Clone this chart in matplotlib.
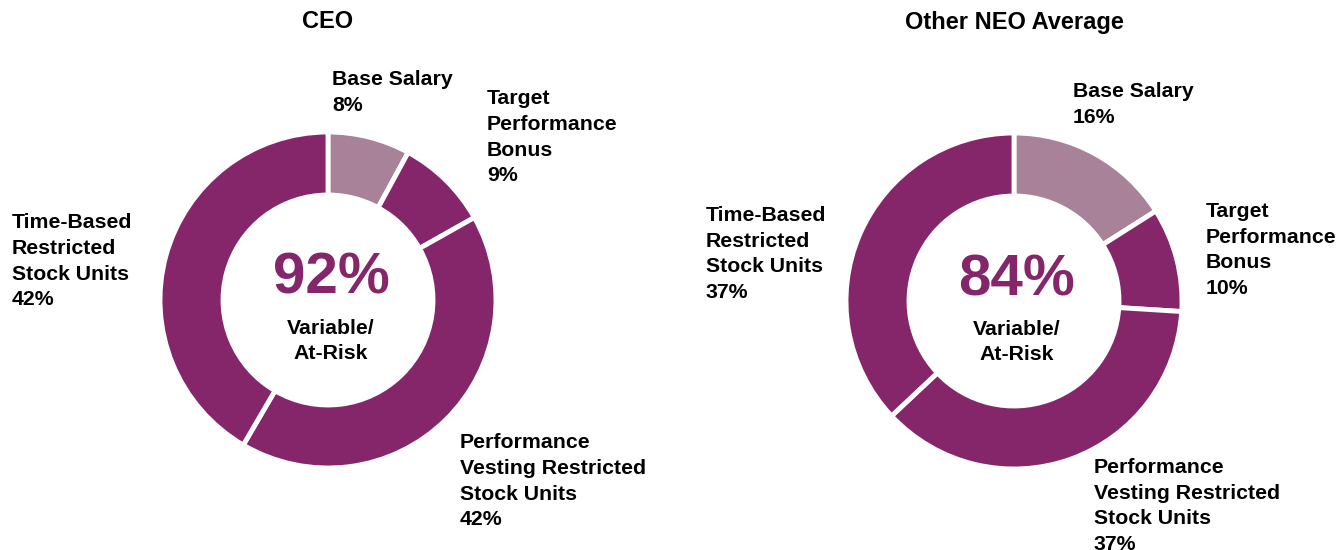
import matplotlib.pyplot as plt

plt.rcParams["font.family"] = ["Liberation Sans", "DejaVu Sans"]
plt.rcParams["font.weight"] = "bold"

W, H = 1337, 550
PURPLE = "#85266B"
LIGHT = "#A88299"

components = ["Base Salary", "Target Performance Bonus",
              "Performance Vesting Restricted Stock Units", "Time-Based Restricted Stock Units"]
ceo_pct = [8, 9, 42, 42]
neo_pct = [16, 10, 37, 37]
ceo_variable = 92
neo_variable = 84

# label text per wedge (line breaks as in the original)
label_lines = ["Base Salary", "Target\nPerformance\nBonus",
               "Performance\nVesting Restricted\nStock Units", "Time-Based\nRestricted\nStock Units"]

# pixel positions (x, top y) of the labels for each donut
ceo_label_pos = [(332, 70), (487, 89), (460, 433), (12, 213)]
neo_label_pos = [(1073, 82), (1206, 202), (1094, 458), (706, 206)]

fig = plt.figure(figsize=(W / 100, H / 100), dpi=100)
ax = fig.add_axes([0, 0, 1, 1])


def donut(values, variable, cx, cy, title, label_pos):
    colors = [LIGHT] + [PURPLE] * (len(values) - 1)
    ax.pie(values, colors=colors, startangle=90, counterclock=False,
           center=(cx, H - cy), radius=168,
           wedgeprops=dict(width=63, edgecolor="white", linewidth=3.5))
    ax.text(cx, H - 22, title, ha="center", va="center", fontsize=17, fontweight="bold")
    ax.text(cx + 3, H - cy + 21, f"{variable}%", ha="center", va="center",
            fontsize=42, fontweight="bold", color=PURPLE)
    ax.text(cx + 3, H - cy - 41, "Variable/\nAt-Risk", ha="center", va="center",
            fontsize=15.3, fontweight="bold", linespacing=1.45)
    for txt, v, (x, y) in zip(label_lines, values, label_pos):
        ax.text(x, H - y, f"{txt}\n{v}%", ha="left", va="top",
                fontsize=15.3, fontweight="bold", linespacing=1.45)


donut(ceo_pct, ceo_variable, 328, 300, "CEO", ceo_label_pos)
donut(neo_pct, neo_variable, 1014, 301, "Other NEO Average", neo_label_pos)

ax.set_xlim(0, W)
ax.set_ylim(0, H)
ax.set_aspect("equal")
ax.axis("off")

fig.savefig("out.png", dpi=100)
